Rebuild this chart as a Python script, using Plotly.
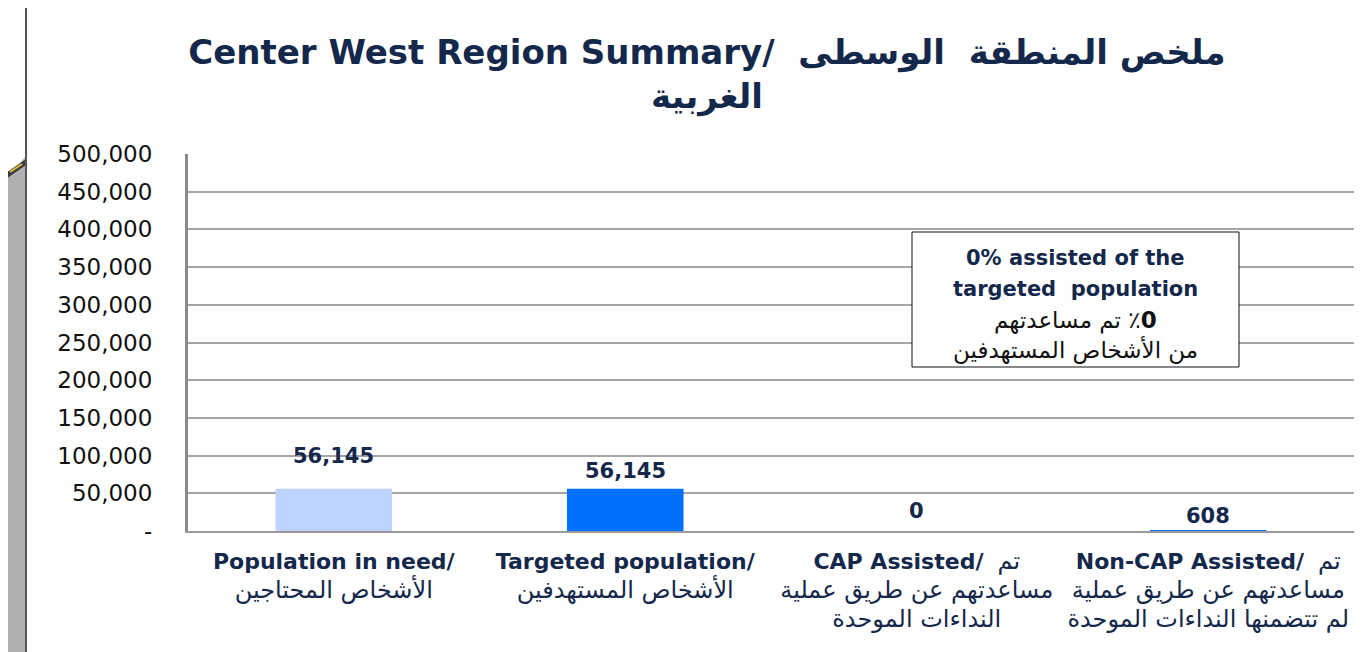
import plotly.graph_objects as go

# ---- data ----
categories = ["pin", "targeted", "cap", "noncap"]
values = [56145, 56145, 0, 608]
value_labels = ["56,145", "56,145", "0", "608"]
bar_colors = ["#BFD3FF", "#0070FF", "#0070FF", "#0070FF"]
AR = '<span style="font-size:24px">{}</span>'
tick_labels = [
    "<b>Population in need/</b><br>" + AR.format("الأشخاص المحتاجين"),
    "<b>Targeted population/</b><br>" + AR.format("الأشخاص المستهدفين"),
    "<b>CAP Assisted/</b>  " + AR.format("تم") + "<br>" + AR.format("مساعدتهم عن طريق عملية")
    + "<br>" + AR.format("النداءات الموحدة"),
    "<b>Non-CAP Assisted/</b>  " + AR.format("تم") + "<br>" + AR.format("مساعدتهم عن طريق عملية")
    + "<br>" + AR.format("لم تتضمنها النداءات الموحدة"),
]
y_tickvals = [0, 50000, 100000, 150000, 200000, 250000, 300000, 350000, 400000, 450000, 500000]
y_ticktext = ["-", "50,000", "100,000", "150,000", "200,000", "250,000", "300,000",
              "350,000", "400,000", "450,000", "500,000"]
title_text = "<b>Center West Region Summary/  ملخص المنطقة  الوسطى<br>الغربية</b>"
note_lines = ["<b>0% assisted of the</b>", "<b>targeted  population</b>",
              "\u202B<b>0</b>\u200F٪ تم مساعدتهم\u202C", "من الأشخاص المستهدفين"]

# page has an 8px body margin: figure is 1360x644 placed at (8, 8)
OFF = 8
W, H = 1360, 644
L, R, T, B = 180, 14, 146, 121
PW, PH = W - L - R, H - T - B

def X(px):  # page pixel -> paper
    return (px - OFF - L) / PW

def Y(py):
    return (H - B - (py - OFF)) / PH

NAVY = "#14284B"
FONT = "DejaVu Sans"

fig = go.Figure()
fig.add_trace(go.Bar(
    x=categories, y=values, width=0.4,
    marker=dict(color=bar_colors, line=dict(width=0)),
    hoverinfo="skip",
))

shapes = []
shapes.append(dict(type="path", xref="paper", yref="paper",
                   path=f"M {X(0)},{Y(186)} L {X(26)},{Y(156)} L {X(26)},{Y(660)} L {X(0)},{Y(660)} Z",
                   fillcolor="#B0B0B0", line=dict(width=0), layer="below"))
shapes.append(dict(type="line", xref="paper", yref="paper",
                   x0=X(0), y0=Y(180), x1=X(26), y1=Y(162),
                   line=dict(color="#3A3A3A", width=5), layer="below"))
shapes.append(dict(type="line", xref="paper", yref="paper",
                   x0=X(10), y0=Y(172), x1=X(22), y1=Y(164),
                   line=dict(color="#E8B84A", width=2), layer="below"))
shapes.append(dict(type="line", xref="paper", yref="paper",
                   x0=X(26), y0=Y(4), x1=X(26), y1=Y(660),
                   line=dict(color="#555555", width=2), layer="below"))
shapes.append(dict(type="rect", xref="paper", yref="paper",
                   x0=X(912), y0=Y(367), x1=X(1239), y1=Y(232),
                   fillcolor="white", line=dict(color="#111111", width=1), layer="above"))

annotations = []
label_shift = [33, 18, 20, 15]
for c, v, t, s in zip(categories, values, value_labels, label_shift):
    annotations.append(dict(x=c, y=v, text=f"<b>{t}</b>", showarrow=False,
                            yanchor="middle", yshift=s,
                            font=dict(family=FONT, size=21, color=NAVY)))
note_y = [258, 289, 320, 350]
note_size = [21, 21, 23, 23]
note_color = [NAVY, NAVY, "#111111", "#111111"]
for ln, py, sz, col in zip(note_lines, note_y, note_size, note_color):
    annotations.append(dict(xref="paper", yref="paper", x=X(1075), y=Y(py), text=ln,
                            showarrow=False, xanchor="center", yanchor="middle",
                            font=dict(family=FONT, size=sz, color=col)))

fig.update_layout(
    width=W, height=H,
    margin=dict(l=L, r=R, t=T, b=B, pad=0),
    paper_bgcolor="white", plot_bgcolor="white",
    showlegend=False,
    title=dict(text=title_text, x=(707 - OFF) / W, xanchor="center", y=1 - 56 / H, yanchor="middle",
               font=dict(family=FONT, size=34, color=NAVY)),
    xaxis=dict(type="category", tickvals=categories, ticktext=tick_labels,
               showline=True, linecolor="#9A9A9A", linewidth=2, showgrid=False,
               ticks="", ticklabelstandoff=10,
               tickfont=dict(family=FONT, size=22, color=NAVY), range=[-0.5, 3.5]),
    yaxis=dict(range=[0, 500000], tickvals=y_tickvals, ticktext=y_ticktext,
               showline=True, linecolor="#8C8C8C", linewidth=3,
               showgrid=True, gridcolor="#A6A6A6", gridwidth=2, zeroline=False,
               ticks="", ticklabelstandoff=28,
               tickfont=dict(family=FONT, size=23, color="#111111")),
    shapes=shapes,
    annotations=annotations,
)

fig.write_html("out.html")
